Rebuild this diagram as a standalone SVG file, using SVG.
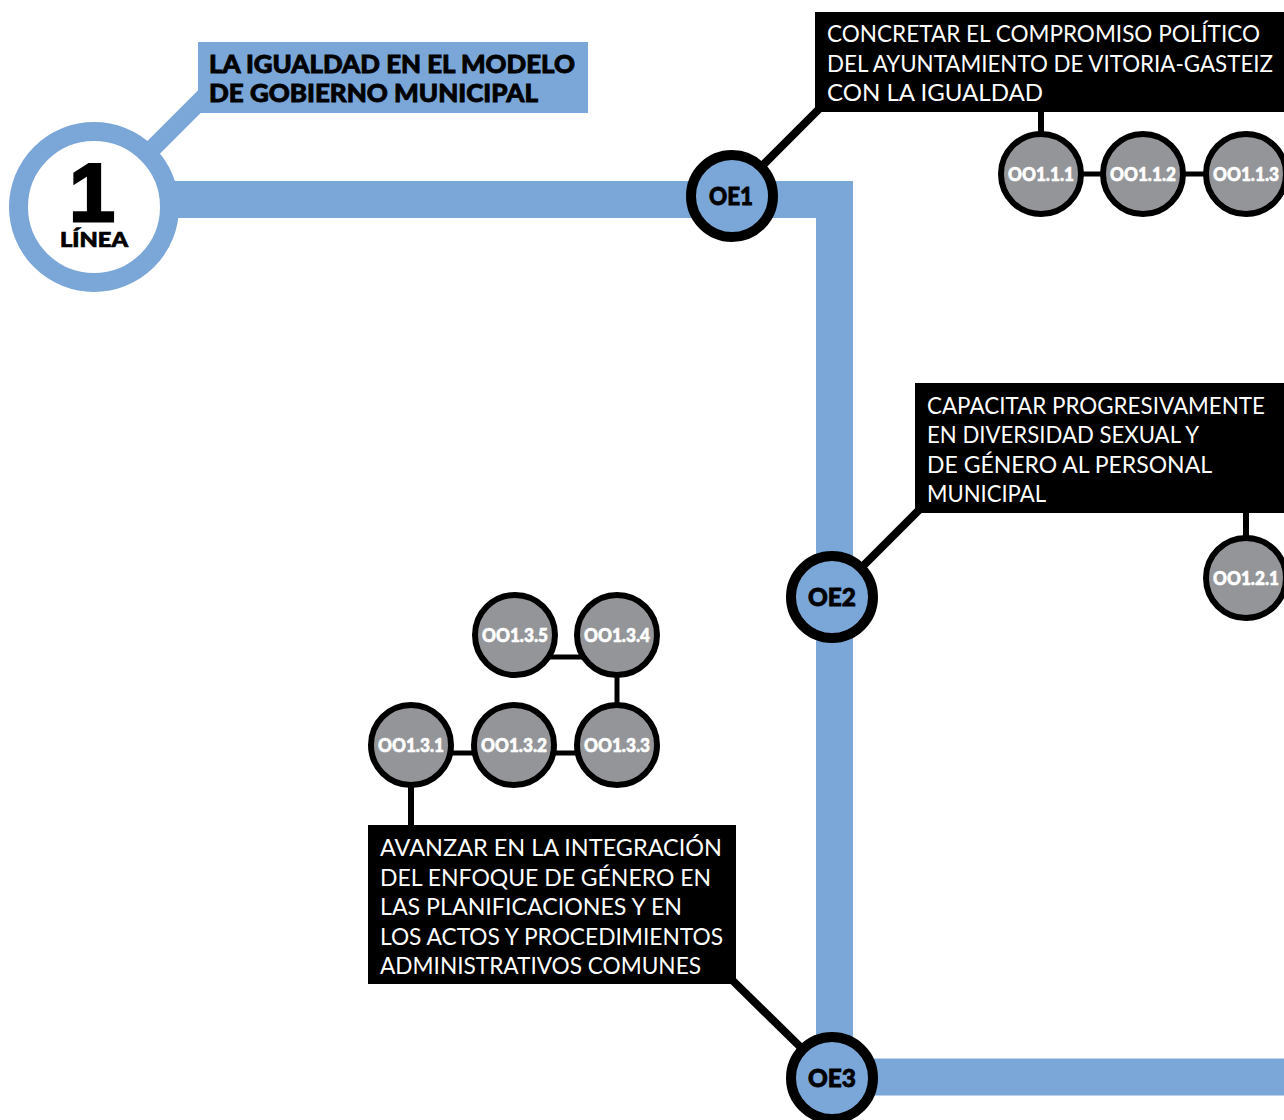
<svg xmlns="http://www.w3.org/2000/svg" width="1284" height="1120" viewBox="0 0 1284 1120">
<defs>
<style>
.bar{fill:none;stroke:#7ba7d8;stroke-width:37;stroke-linejoin:miter}
.blk{stroke:#000;fill:none}
.oe{fill:#7ba7d8;stroke:#000;stroke-width:10}
.oo{fill:#939598;stroke:#000;stroke-width:6}
.oet{font-family:Lato,"Liberation Sans",sans-serif;font-weight:900;font-size:24px;fill:#000;stroke:#000;stroke-width:0.8px;text-anchor:middle}
.oot{font-family:Lato,"Liberation Sans",sans-serif;font-weight:900;font-size:18px;fill:#fff;stroke:#fff;stroke-width:0.6px;text-anchor:middle}
.lt{font-family:Lato,"Liberation Sans",sans-serif;font-weight:400;font-size:23px;fill:#fff}
.hd{font-family:Lato,"Liberation Sans",sans-serif;font-weight:900;font-size:24px;fill:#000;stroke:#000;stroke-width:0.8px}
</style>
</defs>
<rect width="1284" height="1120" fill="#fff"/>
<g id="connectors">
<path class="bar" d="M162 199.5 H834.5 V1077 H1300"/>
<line x1="150" y1="151" x2="214" y2="87" stroke="#7ba7d8" stroke-width="18"/>
<line class="blk" x1="732" y1="196" x2="828" y2="100" stroke-width="8"/>
<line class="blk" x1="832" y1="597" x2="924" y2="505" stroke-width="8"/>
<line class="blk" x1="832" y1="1078" x2="728" y2="976" stroke-width="8"/>
<line class="blk" x1="1041" y1="108" x2="1041" y2="140" stroke-width="6"/>
<line class="blk" x1="1041" y1="174" x2="1250" y2="174" stroke-width="5"/>
<line class="blk" x1="1246" y1="508" x2="1246" y2="545" stroke-width="6"/>
<line class="blk" x1="515" y1="657" x2="617" y2="657" stroke-width="5"/>
<line class="blk" x1="617" y1="635" x2="617" y2="745" stroke-width="5"/>
<line class="blk" x1="411" y1="753" x2="617" y2="753" stroke-width="5"/>
<line class="blk" x1="411" y1="745" x2="411" y2="830" stroke-width="6"/>
</g>
<g id="linea1">
<circle cx="94" cy="207" r="75.5" fill="#fff" stroke="#7ba7d8" stroke-width="19"/>
<text x="92" y="221" font-family="'Liberation Sans',Arial,sans-serif" font-weight="700" font-size="82" text-anchor="middle" fill="#000" stroke="#000" stroke-width="3">1</text>
<text x="60" y="247" font-family="Lato,'Liberation Sans',sans-serif" font-weight="900" font-size="20" fill="#000" stroke="#000" stroke-width="0.7" textLength="68" lengthAdjust="spacingAndGlyphs">LÍNEA</text>
</g>
<g id="titulo">
<rect x="198" y="42" width="390" height="71" fill="#7ba7d8"/>
<text class="hd" x="209" y="73" textLength="366" lengthAdjust="spacingAndGlyphs">LA IGUALDAD EN EL MODELO</text>
<text class="hd" x="209" y="102" textLength="329" lengthAdjust="spacingAndGlyphs">DE GOBIERNO MUNICIPAL</text>
</g>
<g id="oe1">
<circle class="oe" cx="732" cy="196" r="41"/>
<text class="oet" x="731" y="205" textLength="44" lengthAdjust="spacingAndGlyphs">OE1</text>
</g>
<g id="oe1-label">
<rect x="815" y="12" width="480" height="100" fill="#000"/>
<text class="lt" x="827" y="42" textLength="433" lengthAdjust="spacingAndGlyphs">CONCRETAR EL COMPROMISO POLÍTICO</text>
<text class="lt" x="827" y="72" textLength="446" lengthAdjust="spacingAndGlyphs">DEL AYUNTAMIENTO DE VITORIA-GASTEIZ</text>
<text class="lt" x="827" y="101" textLength="216" lengthAdjust="spacingAndGlyphs">CON LA  IGUALDAD</text>
</g>
<g id="oo111"><circle class="oo" cx="1041" cy="174" r="40"/><text class="oot" x="1041" y="181" textLength="66" lengthAdjust="spacingAndGlyphs">OO1.1.1</text></g>
<g id="oo112"><circle class="oo" cx="1143" cy="174" r="40"/><text class="oot" x="1143" y="181" textLength="66" lengthAdjust="spacingAndGlyphs">OO1.1.2</text></g>
<g id="oo113"><circle class="oo" cx="1246" cy="174" r="40"/><text class="oot" x="1246" y="181" textLength="66" lengthAdjust="spacingAndGlyphs">OO1.1.3</text></g>
<g id="oe2">
<circle class="oe" cx="832" cy="597" r="41"/>
<text class="oet" x="832" y="606" textLength="48" lengthAdjust="spacingAndGlyphs">OE2</text>
</g>
<g id="oe2-label">
<rect x="915" y="383" width="380" height="130" fill="#000"/>
<text class="lt" x="927" y="414" textLength="338" lengthAdjust="spacingAndGlyphs">CAPACITAR PROGRESIVAMENTE</text>
<text class="lt" x="927" y="443" textLength="272" lengthAdjust="spacingAndGlyphs">EN DIVERSIDAD SEXUAL Y</text>
<text class="lt" x="927" y="473" textLength="285" lengthAdjust="spacingAndGlyphs">DE GÉNERO AL PERSONAL</text>
<text class="lt" x="927" y="502" textLength="119" lengthAdjust="spacingAndGlyphs">MUNICIPAL</text>
</g>
<g id="oo121"><circle class="oo" cx="1246" cy="578" r="40"/><text class="oot" x="1246" y="585" textLength="66" lengthAdjust="spacingAndGlyphs">OO1.2.1</text></g>
<g id="oo135"><circle class="oo" cx="515" cy="635" r="40"/><text class="oot" x="515" y="642" textLength="66" lengthAdjust="spacingAndGlyphs">OO1.3.5</text></g>
<g id="oo134"><circle class="oo" cx="617" cy="635" r="40"/><text class="oot" x="617" y="642" textLength="66" lengthAdjust="spacingAndGlyphs">OO1.3.4</text></g>
<g id="oo131"><circle class="oo" cx="411" cy="745" r="40"/><text class="oot" x="411" y="752" textLength="66" lengthAdjust="spacingAndGlyphs">OO1.3.1</text></g>
<g id="oo132"><circle class="oo" cx="514" cy="745" r="40"/><text class="oot" x="514" y="752" textLength="66" lengthAdjust="spacingAndGlyphs">OO1.3.2</text></g>
<g id="oo133"><circle class="oo" cx="617" cy="745" r="40"/><text class="oot" x="617" y="752" textLength="66" lengthAdjust="spacingAndGlyphs">OO1.3.3</text></g>
<g id="oe3-label">
<rect x="368" y="825" width="368" height="159" fill="#000"/>
<text class="lt" x="380" y="856" textLength="342" lengthAdjust="spacingAndGlyphs">AVANZAR EN LA INTEGRACIÓN</text>
<text class="lt" x="380" y="886" textLength="331" lengthAdjust="spacingAndGlyphs">DEL ENFOQUE DE GÉNERO EN</text>
<text class="lt" x="380" y="915" textLength="302" lengthAdjust="spacingAndGlyphs">LAS PLANIFICACIONES Y EN</text>
<text class="lt" x="380" y="945" textLength="343" lengthAdjust="spacingAndGlyphs">LOS ACTOS Y PROCEDIMIENTOS</text>
<text class="lt" x="380" y="974" textLength="321" lengthAdjust="spacingAndGlyphs">ADMINISTRATIVOS COMUNES</text>
</g>
<g id="oe3">
<circle class="oe" cx="832" cy="1078" r="41"/>
<text class="oet" x="832" y="1087" textLength="48" lengthAdjust="spacingAndGlyphs">OE3</text>
</g>
</svg>
